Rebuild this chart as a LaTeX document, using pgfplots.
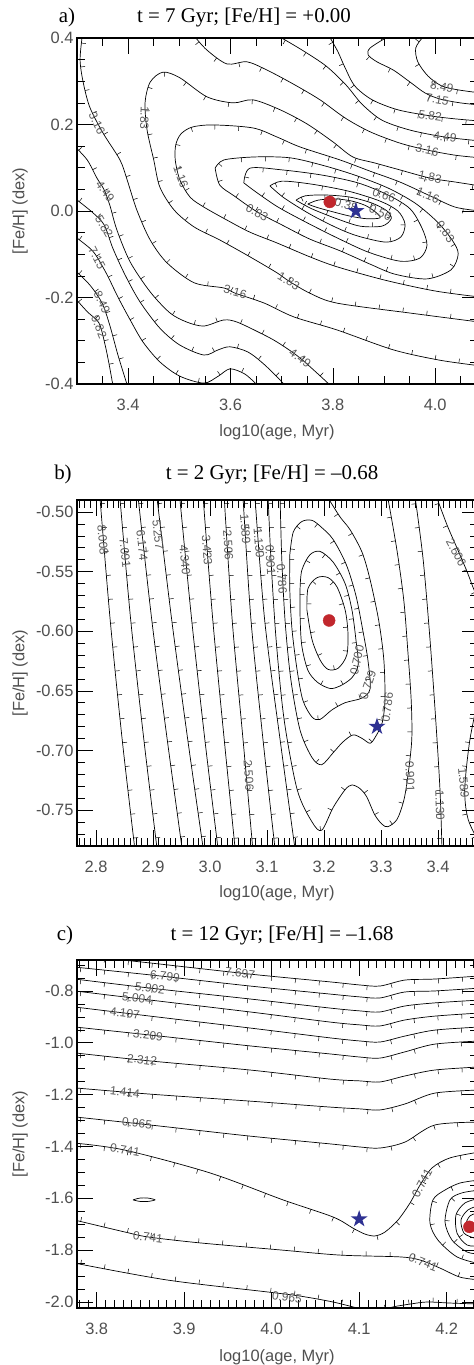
\documentclass[border=0pt]{standalone}
\usepackage{fontspec}
\setmainfont{Liberation Serif}
\newfontfamily\lsans{Liberation Sans}
\usepackage{pgfplots}
\pgfplotsset{compat=1.18}
\usetikzlibrary{decorations.markings}

\definecolor{lblgray}{HTML}{505050}
\definecolor{cgray}{HTML}{5A5A5A}
\definecolor{dotred}{HTML}{C1272D}
\definecolor{starblue}{HTML}{2E3192}

\pgfdeclareplotmark{fstar}{%
  \pgfpathmoveto{\pgfpointpolar{90}{\pgfplotmarksize}}%
  \pgfpathlineto{\pgfpointscale{0.382}{\pgfpointpolar{126}{\pgfplotmarksize}}}%
  \pgfpathlineto{\pgfpointpolar{162}{\pgfplotmarksize}}%
  \pgfpathlineto{\pgfpointscale{0.382}{\pgfpointpolar{198}{\pgfplotmarksize}}}%
  \pgfpathlineto{\pgfpointpolar{234}{\pgfplotmarksize}}%
  \pgfpathlineto{\pgfpointscale{0.382}{\pgfpointpolar{270}{\pgfplotmarksize}}}%
  \pgfpathlineto{\pgfpointpolar{306}{\pgfplotmarksize}}%
  \pgfpathlineto{\pgfpointscale{0.382}{\pgfpointpolar{342}{\pgfplotmarksize}}}%
  \pgfpathlineto{\pgfpointpolar{18}{\pgfplotmarksize}}%
  \pgfpathlineto{\pgfpointscale{0.382}{\pgfpointpolar{54}{\pgfplotmarksize}}}%
  \pgfpathclose
  \pgfusepathqfill
}

\pgfplotsset{
  panel/.style={scale only axis, width=401bp, anchor=south west,
    tick align=inside, major tick length=16bp, minor tick length=8bp,
    tick style={line width=0.6bp, black},
    axis line style={line width=1.6bp},
    ticklabel style={font=\lsans\fontsize{16.5}{18}\selectfont, text=lblgray},
    xticklabel style={yshift=-12bp}},
  ctr/.style={black, line width=0.7bp, smooth},
  ctrR/.style={ctr, postaction={decorate}, decoration={markings,
     mark=between positions 6bp and -4bp step 24bp with {\draw[line width=0.5bp] (0bp,0bp) -- (0bp,-4.5bp);}}},
  ctrL/.style={ctr, postaction={decorate}, decoration={markings,
     mark=between positions 6bp and -4bp step 24bp with {\draw[line width=0.5bp] (0bp,0bp) -- (0bp,4.5bp);}}},
}
\tikzset{clbl/.style={font=\lsans\fontsize{12}{13}\selectfont, text=cgray, inner sep=0pt}}

\begin{document}
\begin{tikzpicture}
\useasboundingbox (0,0) rectangle (474bp,1365bp);

% ================= panel a =================
\begin{axis}[panel, at={(77bp,981bp)}, height=346bp,
  xmin=3.3, xmax=4.0837, ymin=-0.4, ymax=0.4,
  xtick={3.4,3.6,3.8,4.0}, xticklabels={3.4,3.6,3.8,4.0},
  ytick={-0.4,-0.2,0,0.2,0.4}, yticklabels={-0.4,-0.2,0.0,0.2,0.4},
  minor xtick={3.3,3.35,...,4.08}, minor ytick={-0.4,-0.35,...,0.41}]
\addplot[ctrR] coordinates {(3.976,0.402)(3.962,0.377)(3.966,0.345)(3.986,0.312)(4.013,0.289)(4.045,0.280)(4.088,0.273)};
\addplot[ctrR] coordinates {(3.906,0.402)(3.873,0.377)(3.869,0.361)(3.886,0.345)(3.918,0.326)(3.951,0.298)(3.980,0.273)(4.009,0.259)(4.049,0.250)(4.088,0.245)};
\addplot[ctrR] coordinates {(3.794,0.402)(3.810,0.368)(3.824,0.331)(3.843,0.289)(3.877,0.257)(3.927,0.234)(3.990,0.220)(4.039,0.213)(4.088,0.208)};
\addplot[ctrR] coordinates {(3.697,0.402)(3.740,0.372)(3.787,0.335)(3.826,0.291)(3.857,0.247)(3.896,0.210)(3.951,0.187)(4.019,0.171)(4.088,0.162)};
\addplot[ctrR] coordinates {(3.531,0.402)(3.554,0.372)(3.593,0.340)(3.632,0.345)(3.671,0.326)(3.722,0.294)(3.775,0.257)(3.824,0.215)(3.873,0.183)(3.931,0.157)(3.984,0.141)(4.039,0.129)(4.088,0.123)};
\addplot[ctrR] coordinates {(4.088,-0.257)(3.951,-0.236)(3.808,-0.213)(3.755,-0.190)(3.714,-0.162)(3.691,-0.143)(3.638,-0.106)(3.579,-0.067)(3.529,-0.037)(3.490,0.002)(3.462,0.055)(3.450,0.118)(3.437,0.187)(3.433,0.250)(3.443,0.298)(3.468,0.321)(3.501,0.308)(3.554,0.264)(3.605,0.250)(3.644,0.257)(3.697,0.234)(3.750,0.201)(3.800,0.160)(3.839,0.125)(3.882,0.111)(3.931,0.095)(3.990,0.076)(4.039,0.067)(4.088,0.058)};
\addplot[ctrR] coordinates {(4.088,-0.199)(4.000,-0.185)(3.902,-0.160)(3.808,-0.129)(3.755,-0.106)(3.691,-0.074)(3.638,-0.049)(3.593,-0.021)(3.548,0.009)(3.521,0.032)(3.501,0.072)(3.492,0.118)(3.493,0.153)(3.503,0.178)(3.525,0.194)(3.566,0.199)(3.644,0.192)(3.691,0.171)(3.736,0.148)(3.814,0.118)(3.873,0.092)(3.931,0.067)(3.990,0.035)(4.039,0.009)(4.088,0.000)};
\addplot[ctrR] coordinates {(3.570,0.099)(3.587,0.118)(3.648,0.125)(3.716,0.123)(3.779,0.106)(3.843,0.083)(3.908,0.053)(3.961,0.018)(4.004,-0.025)(4.033,-0.067)(4.045,-0.099)(4.031,-0.136)(3.984,-0.157)(3.921,-0.146)(3.873,-0.123)(3.814,-0.092)(3.755,-0.065)(3.705,-0.035)(3.652,-0.002)(3.607,0.035)(3.579,0.060)(3.570,0.099)};
\addplot[ctrR] coordinates {(3.626,0.065)(3.638,0.099)(3.701,0.095)(3.779,0.083)(3.849,0.065)(3.908,0.037)(3.951,0.005)(3.974,-0.039)(3.984,-0.079)(3.970,-0.109)(3.931,-0.116)(3.869,-0.095)(3.808,-0.062)(3.746,-0.025)(3.693,0.009)(3.652,0.042)(3.626,0.065)};
\addplot[ctrR] coordinates {(3.677,0.058)(3.701,0.069)(3.759,0.062)(3.830,0.046)(3.892,0.023)(3.927,0.000)(3.941,-0.030)(3.933,-0.060)(3.904,-0.072)(3.849,-0.058)(3.808,-0.039)(3.755,-0.007)(3.705,0.030)(3.677,0.058)};
\addplot[ctrR] coordinates {(3.728,0.025)(3.746,0.035)(3.785,0.037)(3.834,0.032)(3.877,0.018)(3.906,0.000)(3.914,-0.018)(3.896,-0.035)(3.853,-0.035)(3.808,-0.018)(3.759,0.005)(3.728,0.025)};
\addplot[ctr] coordinates {(3.751,0.016)(3.771,0.025)(3.804,0.028)(3.837,0.023)(3.865,0.012)(3.886,-0.005)(3.892,-0.016)(3.867,-0.018)(3.834,-0.012)(3.794,0.000)(3.767,0.009)(3.751,0.016)};
\addplot[ctrL] coordinates {(3.310,0.402)(3.306,0.349)(3.312,0.298)(3.325,0.240)(3.351,0.180)(3.384,0.118)(3.398,0.072)(3.417,0.002)(3.443,-0.067)(3.476,-0.120)(3.529,-0.166)(3.587,-0.178)(3.609,-0.190)(3.666,-0.213)(3.724,-0.245)(3.808,-0.275)(3.918,-0.321)(4.009,-0.345)(4.088,-0.358)};
\addplot[ctrL] coordinates {(3.295,0.150)(3.320,0.118)(3.339,0.076)(3.353,0.049)(3.364,0.014)(3.378,-0.044)(3.404,-0.118)(3.443,-0.187)(3.482,-0.236)(3.515,-0.257)(3.548,-0.266)(3.587,-0.252)(3.613,-0.257)(3.658,-0.282)(3.691,-0.303)(3.736,-0.340)(3.794,-0.402)};
\addplot[ctrL] coordinates {(3.295,0.030)(3.329,-0.002)(3.353,-0.032)(3.370,-0.086)(3.394,-0.148)(3.423,-0.210)(3.462,-0.271)(3.501,-0.310)(3.548,-0.333)(3.576,-0.321)(3.599,-0.314)(3.634,-0.326)(3.667,-0.356)(3.706,-0.402)};
\addplot[ctrL] coordinates {(3.295,-0.058)(3.325,-0.086)(3.339,-0.106)(3.359,-0.148)(3.380,-0.199)(3.404,-0.252)(3.429,-0.303)(3.462,-0.349)(3.501,-0.382)(3.548,-0.398)(3.576,-0.382)(3.599,-0.365)(3.628,-0.377)(3.652,-0.402)};
\addplot[ctrL] coordinates {(3.295,-0.136)(3.325,-0.171)(3.349,-0.213)(3.364,-0.264)(3.380,-0.333)(3.398,-0.402)};
\addplot[ctrL] coordinates {(3.295,-0.200)(3.321,-0.234)(3.343,-0.259)(3.355,-0.310)(3.363,-0.356)(3.370,-0.402)};
\node[clbl, rotate=-65] at (axis cs:3.339,0.203) {3.16};
\node[clbl, rotate=-92] at (axis cs:3.432,0.215) {1.83};
\node[clbl, rotate=-70] at (axis cs:3.503,0.079) {1.16};
\node[clbl, rotate=-55] at (axis cs:3.355,0.045) {4.49};
\node[clbl, rotate=-60] at (axis cs:3.353,-0.036) {5.82};
\node[clbl, rotate=-62] at (axis cs:3.339,-0.108) {7.15};
\node[clbl, rotate=-65] at (axis cs:3.349,-0.211) {8.49};
\node[clbl, rotate=-68] at (axis cs:3.343,-0.268) {9.82};
\node[clbl, rotate=-30] at (axis cs:3.652,-0.004) {0.83};
\node[clbl, rotate=-31] at (axis cs:3.714,-0.162) {1.83};
\node[clbl, rotate=-15] at (axis cs:3.609,-0.187) {3.16};
\node[clbl, rotate=-35] at (axis cs:3.736,-0.340) {4.49};
\node[clbl, rotate=-12] at (axis cs:4.013,0.287) {8.49};
\node[clbl, rotate=-10] at (axis cs:4.004,0.257) {7.15};
\node[clbl, rotate=-7] at (axis cs:3.990,0.220) {5.82};
\node[clbl, rotate=-8] at (axis cs:4.019,0.171) {4.49};
\node[clbl, rotate=-12] at (axis cs:3.984,0.141) {3.16};
\node[clbl, rotate=-12] at (axis cs:3.990,0.078) {1.83};
\node[clbl, rotate=-22] at (axis cs:3.986,0.036) {1.16};
\node[clbl, rotate=-55] at (axis cs:4.020,-0.048) {0.83};
\node[clbl, rotate=-15] at (axis cs:3.826,0.014) {0.38};
\node[clbl, rotate=-25] at (axis cs:3.893,-0.004) {0.56};
\node[clbl, rotate=-20] at (axis cs:3.900,0.036) {0.66};
\addplot[only marks, mark=*, mark size=6bp, color=dotred] coordinates {(3.794,0.021)};
\addplot[only marks, mark=fstar, mark size=9bp, color=starblue] coordinates {(3.845,0.0)};
\end{axis}

% ================= panel b =================
\begin{axis}[panel, at={(77bp,519bp)}, height=346bp,
  xmin=2.7667, xmax=3.4702, ymin=-0.7802, ymax=-0.4899,
  xtick={2.8,2.9,3.0,3.1,3.2,3.3,3.4}, xticklabels={2.8,2.9,3.0,3.1,3.2,3.3,3.4},
  ytick={-0.75,-0.70,-0.65,-0.60,-0.55,-0.50}, yticklabels={-0.75,-0.70,-0.65,-0.60,-0.55,-0.50},
  minor xtick={2.77,2.78,...,3.475}, minor ytick={-0.78,-0.77,...,-0.485}]
\addplot[ctrL] coordinates {(2.807,-0.488)(2.825,-0.591)(2.846,-0.691)(2.868,-0.782)};
\addplot[ctrL] coordinates {(2.842,-0.488)(2.861,-0.591)(2.884,-0.691)(2.907,-0.782)};
\addplot[ctrL] coordinates {(2.874,-0.488)(2.898,-0.591)(2.925,-0.691)(2.951,-0.782)};
\addplot[ctrL] coordinates {(2.907,-0.488)(2.933,-0.591)(2.961,-0.691)(2.988,-0.782)};
\addplot[ctrL] coordinates {(2.947,-0.488)(2.968,-0.591)(2.991,-0.691)(3.014,-0.782)};
\addplot[ctrL] coordinates {(2.988,-0.488)(3.005,-0.591)(3.025,-0.691)(3.044,-0.782)};
\addplot[ctrL] coordinates {(3.025,-0.488)(3.039,-0.591)(3.058,-0.691)(3.075,-0.782)};
\addplot[ctrL] coordinates {(3.058,-0.488)(3.072,-0.591)(3.093,-0.691)(3.114,-0.782)};
\addplot[ctrL] coordinates {(3.079,-0.488)(3.096,-0.591)(3.123,-0.691)(3.149,-0.782)};
\addplot[ctrL] coordinates {(3.102,-0.488)(3.107,-0.540)(3.116,-0.607)(3.130,-0.674)(3.153,-0.733)(3.179,-0.760)(3.196,-0.767)(3.216,-0.748)(3.237,-0.733)(3.249,-0.729)(3.263,-0.732)(3.275,-0.739)(3.289,-0.754)(3.302,-0.762)(3.312,-0.764)(3.328,-0.758)(3.340,-0.742)(3.347,-0.722)(3.354,-0.691)(3.353,-0.658)(3.347,-0.616)(3.340,-0.574)(3.328,-0.532)(3.312,-0.488)};
\addplot[ctrL] coordinates {(3.123,-0.488)(3.126,-0.540)(3.132,-0.593)(3.142,-0.641)(3.158,-0.683)(3.179,-0.706)(3.196,-0.712)(3.216,-0.702)(3.233,-0.693)(3.251,-0.687)(3.267,-0.690)(3.281,-0.694)(3.291,-0.688)(3.302,-0.677)(3.307,-0.658)(3.305,-0.624)(3.296,-0.591)(3.281,-0.557)(3.267,-0.534)(3.246,-0.515)(3.228,-0.504)(3.207,-0.488)};
\addplot[ctrR] coordinates {(3.140,-0.536)(3.146,-0.517)(3.161,-0.508)(3.179,-0.507)(3.196,-0.513)(3.216,-0.523)(3.239,-0.544)(3.256,-0.570)(3.268,-0.599)(3.277,-0.624)(3.281,-0.648)(3.267,-0.656)(3.237,-0.660)(3.214,-0.666)(3.193,-0.674)(3.179,-0.672)(3.163,-0.658)(3.153,-0.633)(3.144,-0.599)(3.140,-0.565)(3.140,-0.536)};
\addplot[ctrR] coordinates {(3.158,-0.565)(3.161,-0.549)(3.175,-0.536)(3.193,-0.533)(3.216,-0.542)(3.237,-0.560)(3.249,-0.582)(3.256,-0.607)(3.260,-0.628)(3.249,-0.639)(3.228,-0.646)(3.2105,-0.648)(3.189,-0.643)(3.172,-0.633)(3.161,-0.612)(3.158,-0.586)(3.158,-0.565)};
\addplot[ctrR] coordinates {(3.170,-0.582)(3.172,-0.564)(3.188,-0.555)(3.207,-0.555)(3.223,-0.563)(3.237,-0.582)(3.242,-0.601)(3.240,-0.620)(3.225,-0.631)(3.207,-0.632)(3.193,-0.624)(3.179,-0.607)(3.170,-0.582)};
\addplot[ctrR] coordinates {(3.360,-0.488)(3.374,-0.540)(3.386,-0.607)(3.396,-0.674)(3.4035,-0.733)(3.407,-0.782)};
\addplot[ctrR] coordinates {(3.398,-0.488)(3.416,-0.511)(3.435,-0.532)(3.451,-0.550)(3.463,-0.565)(3.474,-0.576)};
\addplot[ctrR] coordinates {(3.474,-0.649)(3.456,-0.691)(3.447,-0.733)(3.453,-0.758)(3.474,-0.779)};
\node[clbl, rotate=-85] at (axis cs:2.812,-0.5235) {8.008};
\node[clbl, rotate=-84] at (axis cs:2.851,-0.534) {7.091};
\node[clbl, rotate=-84] at (axis cs:2.881,-0.528) {6.174};
\node[clbl, rotate=-84] at (axis cs:2.909,-0.519) {5.257};
\node[clbl, rotate=-85] at (axis cs:2.956,-0.540) {4.340};
\node[clbl, rotate=-86] at (axis cs:2.995,-0.532) {3.423};
\node[clbl, rotate=-86] at (axis cs:3.032,-0.528) {2.506};
\node[clbl, rotate=-86] at (axis cs:3.062,-0.514) {1.589};
\node[clbl, rotate=-85] at (axis cs:3.086,-0.526) {1.130};
\node[clbl, rotate=-86] at (axis cs:3.106,-0.540) {0.901};
\node[clbl, rotate=-86] at (axis cs:3.126,-0.556) {0.786};
\node[clbl, rotate=78] at (axis cs:3.258,-0.624) {0.700};
\node[clbl, rotate=72] at (axis cs:3.277,-0.645) {0.729};
\node[clbl, rotate=82] at (axis cs:3.311,-0.664) {0.786};
\node[clbl, rotate=-88] at (axis cs:3.351,-0.722) {0.901};
\node[clbl, rotate=-88] at (axis cs:3.4035,-0.746) {1.130};
\node[clbl, rotate=-85] at (axis cs:3.445,-0.727) {1.589};
\node[clbl, rotate=-62] at (axis cs:3.432,-0.534) {2.506};
\node[clbl, rotate=-86] at (axis cs:3.068,-0.721) {2.506};
\addplot[only marks, mark=*, mark size=6bp, color=dotred] coordinates {(3.209,-0.591)};
\addplot[only marks, mark=fstar, mark size=9bp, color=starblue] coordinates {(3.293,-0.680)};
\end{axis}

% ================= panel c =================
\begin{axis}[panel, at={(77bp,57bp)}, height=348bp,
  xmin=3.7775, xmax=4.2358, ymin=-2.0231, ymax=-0.6806,
  xtick={3.8,3.9,4.0,4.1,4.2}, xticklabels={3.8,3.9,4.0,4.1,4.2},
  ytick={-2.0,-1.8,-1.6,-1.4,-1.2,-1.0,-0.8}, yticklabels={-2.0,-1.8,-1.6,-1.4,-1.2,-1.0,-0.8},
  minor xtick={3.78,3.79,...,4.235}, minor ytick={-2.0,-1.95,...,-0.69}]
\addplot[ctrR] coordinates {(3.775,-0.661)(3.8609,-0.692)(3.9752,-0.735)(4.0666,-0.765)(4.1009,-0.777)(4.1238,-0.781)(4.1523,-0.758)(4.1866,-0.754)(4.2381,-0.742)};
\addplot[ctrR] coordinates {(3.775,-0.708)(3.8609,-0.738)(3.9752,-0.781)(4.0666,-0.812)(4.1009,-0.823)(4.1238,-0.827)(4.1523,-0.804)(4.1866,-0.800)(4.2381,-0.789)};
\addplot[ctrR] coordinates {(3.775,-0.754)(3.8609,-0.789)(3.9752,-0.831)(4.0666,-0.866)(4.1009,-0.877)(4.1238,-0.881)(4.1523,-0.858)(4.1866,-0.846)(4.2381,-0.835)};
\addplot[ctrR] coordinates {(3.775,-0.800)(3.8609,-0.835)(3.9752,-0.881)(4.0666,-0.920)(4.1009,-0.931)(4.1238,-0.935)(4.1523,-0.912)(4.1866,-0.897)(4.2381,-0.885)};
\addplot[ctrR] coordinates {(3.775,-0.862)(3.8609,-0.897)(3.9752,-0.943)(4.0666,-0.981)(4.1009,-0.993)(4.1238,-0.997)(4.1523,-0.974)(4.1866,-0.951)(4.2381,-0.939)};
\addplot[ctrR] coordinates {(3.775,-0.939)(3.8609,-0.970)(3.9752,-1.012)(4.0666,-1.043)(4.1009,-1.055)(4.1238,-1.059)(4.1523,-1.035)(4.1866,-1.005)(4.2381,-0.993)};
\addplot[ctrR] coordinates {(3.775,-1.039)(3.8609,-1.070)(3.9752,-1.105)(4.0666,-1.140)(4.1009,-1.147)(4.1238,-1.151)(4.1523,-1.128)(4.1866,-1.105)(4.2381,-1.093)};
\addplot[ctrR] coordinates {(3.775,-1.174)(3.8609,-1.198)(3.9752,-1.225)(4.0666,-1.248)(4.1009,-1.255)(4.1238,-1.259)(4.1523,-1.236)(4.1866,-1.194)(4.2381,-1.182)};
\addplot[ctrR] coordinates {(3.775,-1.286)(3.8609,-1.317)(3.9752,-1.360)(4.0666,-1.390)(4.1009,-1.402)(4.1238,-1.406)(4.1523,-1.383)(4.1866,-1.317)(4.2381,-1.306)};
\addplot[ctrR] coordinates {(3.775,-1.387)(3.8323,-1.414)(3.9295,-1.502)(4.0129,-1.606)(4.0701,-1.672)(4.0929,-1.715)(4.1066,-1.738)(4.1181,-1.745)(4.1295,-1.730)(4.1443,-1.684)(4.1581,-1.618)(4.1695,-1.549)(4.1832,-1.483)(4.2038,-1.444)(4.2381,-1.421)};
\addplot[ctrL] coordinates {(3.775,-1.684)(3.8323,-1.730)(3.8587,-1.749)(3.9181,-1.772)(4.0095,-1.799)(4.0781,-1.819)(4.1466,-1.826)(4.1695,-1.838)(4.1923,-1.869)(4.2152,-1.904)(4.2381,-1.915)};
\addplot[ctrL] coordinates {(3.775,-1.850)(3.8803,-1.915)(3.9946,-1.961)(4.0323,-1.977)(4.0701,-2.000)(4.1009,-2.026)};
\addplot[ctrL] coordinates {(4.1238,-2.035)(4.1386,-2.019)(4.1581,-2.008)(4.1775,-2.000)(4.2038,-2.004)(4.2381,-2.008)};
\addplot[ctrL] coordinates {(4.2381,-1.529)(4.2152,-1.541)(4.1981,-1.568)(4.1843,-1.606)(4.1809,-1.695)(4.1900,-1.761)(4.2118,-1.826)(4.2381,-1.853)};
\addplot[ctrL] coordinates {(4.2381,-1.568)(4.2175,-1.579)(4.2038,-1.606)(4.1981,-1.691)(4.2061,-1.761)(4.2232,-1.807)(4.2381,-1.815)};
\addplot[ctrL] coordinates {(4.2381,-1.599)(4.2209,-1.618)(4.2106,-1.664)(4.2118,-1.734)(4.2232,-1.780)(4.2381,-1.784)};
\addplot[ctr] coordinates {(4.2381,-1.626)(4.2243,-1.645)(4.2163,-1.684)(4.2198,-1.734)(4.2312,-1.753)(4.2381,-1.757)};
\addplot[ctr] coordinates {(4.2381,-1.653)(4.2266,-1.668)(4.2221,-1.703)(4.2312,-1.726)(4.2381,-1.730)};
\addplot[ctr] coordinates {(3.8415,-1.606)(3.8495,-1.599)(3.8586,-1.599)(3.8666,-1.606)(3.8586,-1.612)(3.8495,-1.612)(3.8415,-1.606)};
\node[clbl, rotate=-7] at (axis cs:3.9638,-0.731) {7.697};
\node[clbl, rotate=-7] at (axis cs:3.878,-0.744) {6.799};
\node[clbl, rotate=-7] at (axis cs:3.8609,-0.789) {5.902};
\node[clbl, rotate=-7] at (axis cs:3.8461,-0.829) {5.004};
\node[clbl, rotate=-7] at (axis cs:3.8323,-0.885) {4.107};
\node[clbl, rotate=-7] at (axis cs:3.8586,-0.970) {3.209};
\node[clbl, rotate=-7] at (axis cs:3.8518,-1.066) {2.312};
\node[clbl, rotate=-7] at (axis cs:3.8323,-1.190) {1.414};
\node[clbl, rotate=-7] at (axis cs:3.8461,-1.310) {0.965};
\node[clbl, rotate=-9] at (axis cs:3.8323,-1.414) {0.741};
\node[clbl, rotate=-7] at (axis cs:3.8586,-1.749) {0.741};
\node[clbl, rotate=62] at (axis cs:4.1718,-1.541) {0.741};
\node[clbl, rotate=-22] at (axis cs:4.173,-1.846) {0.741};
\node[clbl, rotate=-8] at (axis cs:4.0175,-1.981) {0.965};
\addplot[only marks, mark=*, mark size=6bp, color=dotred] coordinates {(4.226,-1.71)};
\addplot[only marks, mark=fstar, mark size=9bp, color=starblue] coordinates {(4.10,-1.68)};
\end{axis}

\node[anchor=base, font=\fontsize{21}{24}\selectfont] at (244bp,1342bp) {t = 7 Gyr; [Fe/H] = +0.00};
\node[anchor=base, font=\fontsize{21}{24}\selectfont] at (67bp,1342bp) {a)};
\node[anchor=base, font=\fontsize{21}{24}\selectfont] at (272bp,885bp) {t = 2 Gyr; [Fe/H] = --0.68};
\node[anchor=base, font=\fontsize{21}{24}\selectfont] at (63bp,885bp) {b)};
\node[anchor=base, font=\fontsize{21}{24}\selectfont] at (282bp,424bp) {t = 12 Gyr; [Fe/H] = --1.68};
\node[anchor=base, font=\fontsize{21}{24}\selectfont] at (65bp,424bp) {c)};
\node[rotate=90, font=\lsans\fontsize{16.5}{18}\selectfont, text=lblgray] at (20bp,1154bp) {[Fe/H] (dex)};
\node[rotate=90, font=\lsans\fontsize{16.5}{18}\selectfont, text=lblgray] at (20bp,692bp) {[Fe/H] (dex)};
\node[rotate=90, font=\lsans\fontsize{16.5}{18}\selectfont, text=lblgray] at (20bp,231bp) {[Fe/H] (dex)};
\node[font=\lsans\fontsize{16.5}{18}\selectfont, text=lblgray] at (277bp,933bp) {log10(age, Myr)};
\node[font=\lsans\fontsize{16.5}{18}\selectfont, text=lblgray] at (277bp,472bp) {log10(age, Myr)};
\node[font=\lsans\fontsize{16.5}{18}\selectfont, text=lblgray] at (277bp,8bp) {log10(age, Myr)};
\end{tikzpicture}
\end{document}
